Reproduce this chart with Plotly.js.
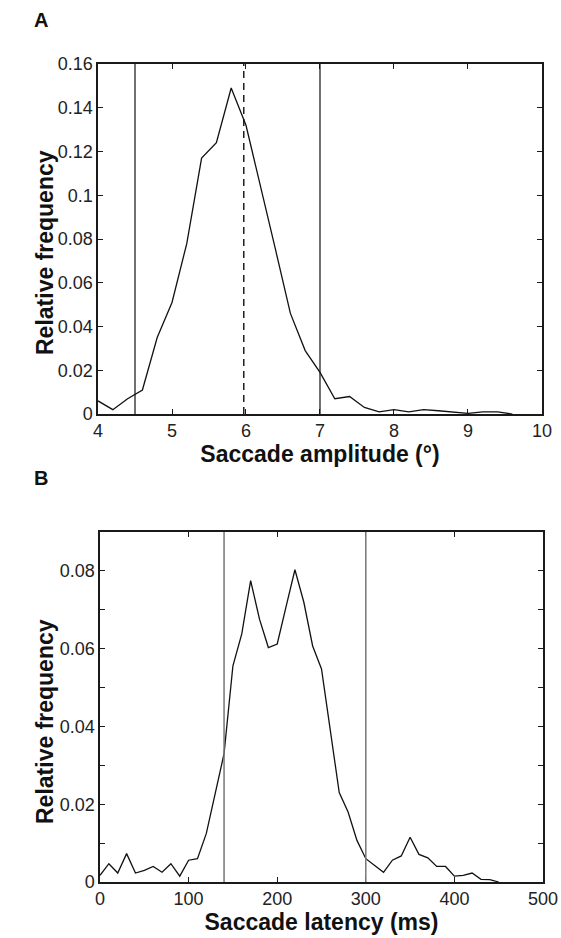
<!DOCTYPE html>
<html><head><meta charset="utf-8">
<script src="https://cdn.plot.ly/plotly-3.0.1.min.js"></script>
<style>html,body{margin:0;padding:0;background:#fff}#chart{width:561px;height:938px}</style>
</head><body><div id="chart"></div>
<script>
// Panel A: saccade amplitude distribution
const ampX = [4.0,4.2,4.4,4.6,4.8,5.0,5.2,5.4,5.6,5.8,6.0,6.2,6.4,6.6,6.8,7.0,7.2,7.4,7.6,7.8,8.0,8.2,8.4,8.6,8.8,9.0,9.2,9.4,9.6];
const ampY = [0.006,0.002,0.007,0.011,0.035,0.051,0.078,0.117,0.124,0.149,0.132,0.104,0.075,0.046,0.029,0.019,0.007,0.008,0.003,0.001,0.002,0.001,0.002,0.0015,0.001,0.0003,0.001,0.001,0.0];
const ampSolidLines = [4.5, 7.0];
const ampDashedLines = [5.97];
// Panel B: saccade latency distribution
const latX = [0,10,20,30,40,50,60,70,80,90,100,110,120,130,140,150,160,170,180,190,200,210,220,230,240,250,260,270,280,290,300,310,320,330,340,350,360,370,380,390,400,410,420,430,440,450];
const latY = [0.0017,0.0047,0.0023,0.0073,0.0023,0.0030,0.0040,0.0025,0.0047,0.0015,0.0056,0.0060,0.0125,0.023,0.033,0.0556,0.0638,0.0775,0.0676,0.0603,0.0612,0.0708,0.0803,0.072,0.0607,0.0548,0.0395,0.023,0.018,0.0107,0.006,0.0043,0.0025,0.0056,0.0067,0.0115,0.0071,0.0062,0.0040,0.0040,0.0015,0.0017,0.0023,0.0007,0.0006,0.0];
const latLines = [140, 300];
const ampTicks = [0,0.02,0.04,0.06,0.08,0.1,0.12,0.14,0.16];
const ampTickText = ['0','0.02','0.04','0.06','0.08','0.1','0.12','0.14','0.16'];
const latTicks = [0,0.01,0.02,0.03,0.04,0.05,0.06,0.07,0.08];
const latTickText = ['0','','0.02','','0.04','','0.06','','0.08'];
const yTitle = 'Relative frequency';

const FONT = 'Liberation Sans, Arial, sans-serif';
const axisBase = {
  showline: true, linecolor: '#1a1a1a', linewidth: 1.6, mirror: 'ticks',
  ticks: 'inside', ticklen: 5, tickwidth: 1, tickcolor: '#1a1a1a',
  showgrid: false, zeroline: false,
  tickfont: {family: FONT, size: 18, color: '#222'}
};
const titleFont = {family: FONT, size: 23, color: '#111', weight: 'bold'};

const traces = [
  {x: ampX, y: ampY, type: 'scatter', mode: 'lines', line: {color: '#111', width: 1.3}, xaxis: 'x', yaxis: 'y', hoverinfo: 'skip'},
  {x: latX, y: latY, type: 'scatter', mode: 'lines', line: {color: '#111', width: 1.3}, xaxis: 'x2', yaxis: 'y2', hoverinfo: 'skip'}
];

const shapes = [];
ampSolidLines.forEach(v => shapes.push({type: 'line', xref: 'x', yref: 'y domain', x0: v, x1: v, y0: 0, y1: 1, line: {color: '#111', width: 1.2}}));
ampDashedLines.forEach(v => shapes.push({type: 'line', xref: 'x', yref: 'y domain', x0: v, x1: v, y0: 0, y1: 1, line: {color: '#111', width: 1.4, dash: '7px,5px'}}));
latLines.forEach(v => shapes.push({type: 'line', xref: 'x2', yref: 'y2 domain', x0: v, x1: v, y0: 0, y1: 1, line: {color: '#777', width: 1.5}}));

const layout = {
  width: 561, height: 938, showlegend: false,
  paper_bgcolor: '#fff', plot_bgcolor: '#fff',
  margin: {l: 0, r: 0, t: 0, b: 0},
  xaxis: Object.assign({}, axisBase, {domain: [0.1747, 0.9661], range: [4, 10], tickvals: [4,5,6,7,8,9,10], anchor: 'y',
    title: {text: 'Saccade amplitude (°)', font: titleFont, standoff: 4}}),
  yaxis: Object.assign({}, axisBase, {domain: [0.5586, 0.9318], range: [0, 0.16], tickvals: ampTicks, ticktext: ampTickText, anchor: 'x'}),
  xaxis2: Object.assign({}, axisBase, {domain: [0.1783, 0.9679], range: [0, 500], tickvals: [0,100,200,300,400,500], anchor: 'y2',
    title: {text: 'Saccade latency (ms)', font: titleFont, standoff: 4}}),
  yaxis2: Object.assign({}, axisBase, {domain: [0.0597, 0.4328], range: [0, 0.09], tickvals: latTicks, ticktext: latTickText, anchor: 'x2'}),
  shapes: shapes,
  annotations: [
    {text: '<b>A</b>', xref: 'paper', yref: 'paper', x: 41/561, y: 1 - 20/938, showarrow: false, xanchor: 'center', yanchor: 'middle', font: {family: FONT, size: 20, color: '#111'}},
    {text: '<b>B</b>', xref: 'paper', yref: 'paper', x: 41/561, y: 1 - 478/938, showarrow: false, xanchor: 'center', yanchor: 'middle', font: {family: FONT, size: 20, color: '#111'}},
    {text: '<b>' + yTitle + '</b>', xref: 'paper', yref: 'paper', x: 45/561, y: 1 - 253/938, textangle: -90, showarrow: false, xanchor: 'center', yanchor: 'middle', font: {family: FONT, size: 23, color: '#111'}},
    {text: '<b>' + yTitle + '</b>', xref: 'paper', yref: 'paper', x: 45/561, y: 1 - 722/938, textangle: -90, showarrow: false, xanchor: 'center', yanchor: 'middle', font: {family: FONT, size: 23, color: '#111'}}
  ]
};
Plotly.newPlot('chart', traces, layout, {staticPlot: true, displayModeBar: false});
</script></body></html>
